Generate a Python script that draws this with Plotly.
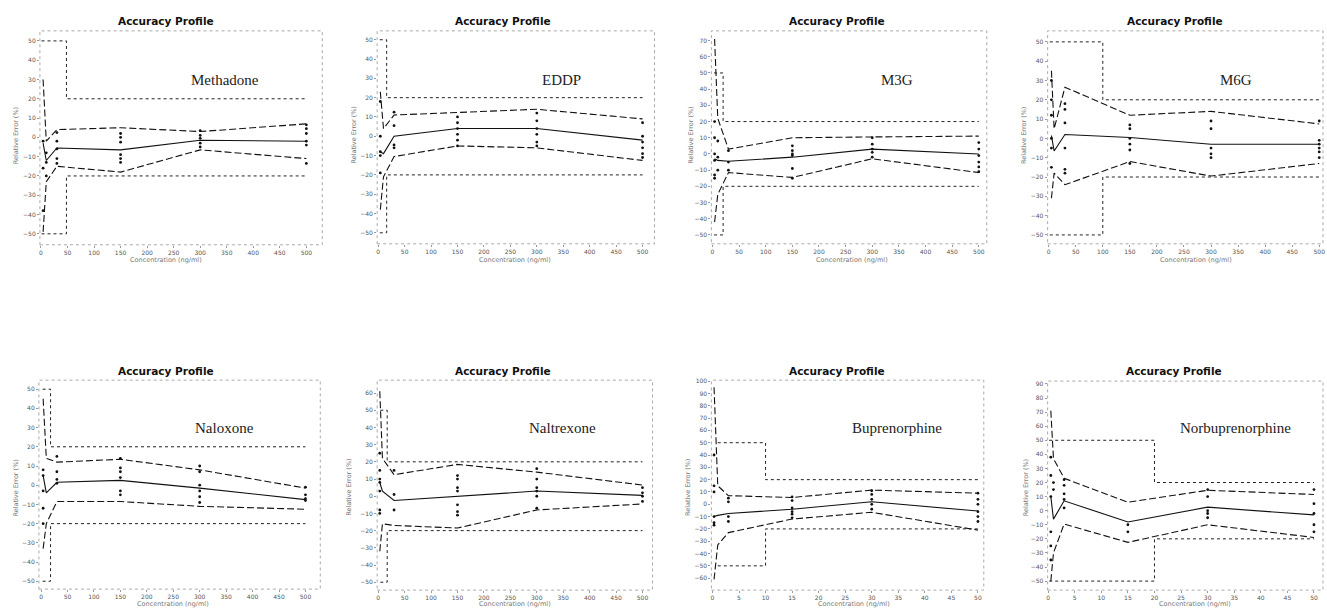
import plotly.graph_objects as go

W, H = 1327, 613

# ---------------- data ----------------
names = ["Methadone", "EDDP", "M3G", "M6G", "Naloxone", "Naltrexone",
         "Buprenorphine", "Norbuprenorphine"]

# Methadone
methadone_conc = [4, 10, 30, 150, 300, 500]
methadone_upper = [30, -2, 4, 5, 3, 7]
methadone_mean = [-3, -12, -5.5, -6.5, -1.5, -2]
methadone_lower = [-49, -23, -15, -18, -6.5, -11]
methadone_limit_x = [1, 48, 48, 500]
methadone_pts_x = [4]*3 + [10]*3 + [30]*5 + [150]*6 + [300]*5 + [500]*6
methadone_pts_y = [-2, -16, -38, -8, -13, -20, 2.5, -2, -6, -11, -13.5,
                   2, 0, -2.5, -9, -11, -13, 3.5, 1, -0.5, -3, -5,
                   6.5, 4.5, 2, -2, -4, -13.5]

# EDDP
eddp_conc = [4, 10, 30, 150, 300, 500]
eddp_upper = [23, 4, 11, 12.5, 14, 9]
eddp_mean = [-8, -9, 0, 4, 4, -2]
eddp_lower = [-38, -21, -10.5, -5, -6, -12.5]
eddp_limit_x = [3, 16, 16, 500]
eddp_pts_x = [4]*5 + [30]*4 + [150]*6 + [300]*6 + [500]*6
eddp_pts_y = [18, 0, -8, -10, -19, 12.5, 5.5, -4.5, -6,
              10, 7, 4, 1, -2, -5, 12, 8, 4, 1, -3, -5,
              7, 0, -3, -6, -9, -11]

# M3G
m3g_conc = [4, 10, 30, 150, 300, 500]
m3g_upper = [71, 22, 3, 10, 10.5, 11]
m3g_mean = [-3, -4, -4.5, -2, 3, 0]
m3g_lower = [-42, -25, -11.5, -14.5, -3, -11.5]
m3g_limit_x = [3, 20, 20, 500]
m3g_pts_x = [4]*6 + [10]*3 + [30]*3 + [150]*6 + [300]*5 + [500]*6
m3g_pts_y = [20, 10, 0, -4, -13, -15, 8, -2, -10, 2, -5, -10,
             5, 2, 0, -1, -9, -15, 10, 6, 3, 1, -2,
             7, 3, -1, -5, -8, -11]

# M6G
m6g_conc = [5, 10, 30, 150, 300, 500]
m6g_upper = [35, 5, 26.5, 12, 14, 7.5]
m6g_mean = [1.5, -6.5, 2, 0.5, -3, -3]
m6g_lower = [-31, -18, -24, -12, -19.5, -13]
m6g_limit_x = [2, 100, 100, 500]
m6g_pts_x = [5]*6 + [30]*6 + [150]*6 + [300]*5 + [500]*6
m6g_pts_y = [30, 20, 12, 0, -5, -15, 18, 15, 8, -5, -16, -18,
             7, 5, 0, -3, -6, -13, 9, 5, -5, -8, -10,
             9, -1, -3, -5, -7, -10]

# Naloxone
naloxone_conc = [4, 10, 30, 150, 300, 500]
naloxone_upper = [45, 14, 12, 13.5, 8, -1.5]
naloxone_mean = [5, -4, 1.5, 2.5, -1.5, -7.5]
naloxone_lower = [-33, -20, -8.5, -8.5, -11, -12.5]
naloxone_limit_x = [3, 18, 18, 500]
naloxone_pts_x = [4]*5 + [30]*4 + [150]*6 + [300]*6 + [500]*4
naloxone_pts_y = [8, 5, -3, -12, -20, 15, 7, 3, 1,
                  14, 9, 7, 4, -3, -5, 10, 7, 0, -3, -6, -9,
                  -1, -5, -7, -8]

# Naltrexone
naltrexone_conc = [3, 8, 30, 150, 300, 500]
naltrexone_upper = [61, 22, 12.5, 18.5, 14, 6.5]
naltrexone_mean = [8, 3, -2.5, 0, 3, 0.5]
naltrexone_lower = [-32, -16, -17, -18.5, -8, -4.5]
naltrexone_limit_x = [4, 17, 17, 500]
naltrexone_pts_x = [3]*7 + [30]*3 + [150]*7 + [300]*6 + [500]*4
naltrexone_pts_y = [25, 15, 10, 8, 3, -8, -10, 15, 1, -8,
                    12, 10, 5, 3, -5, -9, -11, 16, 10, 5, 3, 0, -7,
                    5, 2, 0, -3]

# Buprenorphine
buprenorphine_conc = [0.3, 1, 3, 15, 30, 50]
buprenorphine_upper = [95, 15, 7, 5.5, 11.5, 9]
buprenorphine_mean = [-10, -9, -7.5, -4, 2, -5.5]
buprenorphine_lower = [-61, -33, -23, -12, -6.5, -21]
buprenorphine_limit_x = [1, 10, 10, 50]
buprenorphine_pts_x = [0.3]*6 + [3]*4 + [15]*6 + [30]*5 + [50]*6
buprenorphine_pts_y = [40, 15, 10, -10, -15, -17, 5, 2, -10, -14,
                       6, 3, -3, -6, -8, -11, 11, 8, 4, 0, -4,
                       9, 4, 0, -6, -10, -14]

# Norbuprenorphine
norbuprenorphine_conc = [0.5, 1, 3, 15, 30, 50]
norbuprenorphine_upper = [71, 37, 23, 6, 14.5, 11.5]
norbuprenorphine_mean = [10, -6, 7, -8, 2.5, -3]
norbuprenorphine_lower = [-50, -30, -9.5, -22.5, -10, -19]
norbuprenorphine_limit_x = [0.2, 20, 20, 50]
norbuprenorphine_pts_x = [0.5]*6 + [1]*2 + [3]*5 + [15]*2 + [30]*5 + [50]*5
norbuprenorphine_pts_y = [38, 25, 10, -15, -25, -35, 20, 15,
                          22, 18, 12, 8, 2, -10, -15,
                          15, 10, 0, -2, -5, 15, 5, -2, -10, -15]

limit_hi = [50, 50, 20, 20]
limit_lo = [-50, -50, -20, -20]

x_ticks_big = [0, 50, 100, 150, 200, 250, 300, 350, 400, 450, 500]
x_ticks_small = [0, 5, 10, 15, 20, 25, 30, 35, 40, 45, 50]

# ---------------- layout geometry ----------------
# plot boxes in pixels: (left, right, top, bottom)
boxes = [(39, 322, 28, 243), (377, 655, 28, 242), (712, 988, 28, 242), (1049, 1325, 28, 242),
         (38, 320, 379, 589), (377, 653, 379, 590), (712, 985, 379, 590), (1049, 1325, 380, 590)]
xranges = [[-2, 530], [-2, 522.6], [-2, 515], [-2, 507],
           [-4, 528], [-2, 519], [-0.2, 51.1], [-0.1, 51.7]]
yranges = [[-55.7, 55.2], [-55.7, 54.6], [-55.5, 76], [-54.6, 55.7],
           [-54.1, 54.7], [-54.6, 67.5], [-69.7, 100.8], [-56.4, 92]]
ytick_ranges = [(-50, 50), (-50, 50), (-50, 70), (-50, 50),
                (-50, 50), (-50, 60), (-60, 100), (-50, 90)]
label_pos = [(225, 77), (562, 77), (898, 77), (1238, 77),
             (224, 427), (563, 427), (898, 427), (1237, 427)]
title_pos = [(165, 18), (503, 18), (838, 18), (1177, 18),
             (165, 370), (503, 370), (838, 370), (1176, 370)]
xtitle_pos = [(165, 258), (515, 258), (853, 258), (1198, 258),
              (172, 604), (515, 604), (855, 604), (1197, 604)]
ytitle_pos = [(15, 133), (354, 133), (692, 133), (1026, 133),
              (15, 487), (348, 487), (688, 487), (1027, 487)]

panels = [
    (methadone_conc, methadone_upper, methadone_mean, methadone_lower, methadone_limit_x, methadone_pts_x, methadone_pts_y),
    (eddp_conc, eddp_upper, eddp_mean, eddp_lower, eddp_limit_x, eddp_pts_x, eddp_pts_y),
    (m3g_conc, m3g_upper, m3g_mean, m3g_lower, m3g_limit_x, m3g_pts_x, m3g_pts_y),
    (m6g_conc, m6g_upper, m6g_mean, m6g_lower, m6g_limit_x, m6g_pts_x, m6g_pts_y),
    (naloxone_conc, naloxone_upper, naloxone_mean, naloxone_lower, naloxone_limit_x, naloxone_pts_x, naloxone_pts_y),
    (naltrexone_conc, naltrexone_upper, naltrexone_mean, naltrexone_lower, naltrexone_limit_x, naltrexone_pts_x, naltrexone_pts_y),
    (buprenorphine_conc, buprenorphine_upper, buprenorphine_mean, buprenorphine_lower, buprenorphine_limit_x, buprenorphine_pts_x, buprenorphine_pts_y),
    (norbuprenorphine_conc, norbuprenorphine_upper, norbuprenorphine_mean, norbuprenorphine_lower, norbuprenorphine_limit_x, norbuprenorphine_pts_x, norbuprenorphine_pts_y),
]

fig = go.Figure()
shapes = []
annotations = []
layout_axes = {}
small_font = dict(size=6, color="#555", family="DejaVu Sans")

for i, (conc, up, mean, lo, lim_x, px, py) in enumerate(panels):
    n = i + 1
    xa = "x" if n == 1 else f"x{n}"
    ya = "y" if n == 1 else f"y{n}"
    l, r, t, b = boxes[i]
    # acceptance limits (dotted)
    for lim in (limit_hi, limit_lo):
        fig.add_trace(go.Scatter(x=lim_x, y=lim, mode="lines", xaxis=xa, yaxis=ya,
                                 line=dict(color="#222", width=1, dash="dot"),
                                 showlegend=False, hoverinfo="skip"))
    # tolerance limits (dashed)
    for tol in (up, lo):
        fig.add_trace(go.Scatter(x=conc, y=tol, mode="lines", xaxis=xa, yaxis=ya,
                                 line=dict(color="#111", width=1.1, dash="7px,3px"),
                                 showlegend=False, hoverinfo="skip"))
    # mean bias (solid)
    fig.add_trace(go.Scatter(x=conc, y=mean, mode="lines", xaxis=xa, yaxis=ya,
                             line=dict(color="#111", width=1.1),
                             showlegend=False, hoverinfo="skip"))
    # individual results
    fig.add_trace(go.Scatter(x=px, y=py, mode="markers", xaxis=xa, yaxis=ya,
                             marker=dict(color="#111", size=2.8),
                             showlegend=False, hoverinfo="skip"))

    ylo, yhi = ytick_ranges[i]
    ytickvals = list(range(ylo, yhi + 1, 10))
    xtickvals = x_ticks_big if i < 6 else x_ticks_small
    layout_axes[("xaxis" if n == 1 else f"xaxis{n}")] = dict(
        domain=[l / W, r / W], anchor=ya, range=xranges[i],
        showgrid=False, zeroline=False, showline=False,
        tickvals=xtickvals, ticks="outside", ticklen=2, tickcolor="#999",
        tickfont=small_font, ticklabeloverflow="allow",
    )
    layout_axes[("yaxis" if n == 1 else f"yaxis{n}")] = dict(
        domain=[1 - b / H, 1 - t / H], anchor=xa, range=yranges[i],
        showgrid=False, zeroline=False, showline=False,
        tickvals=ytickvals, ticks="outside", ticklen=2, tickcolor="#999",
        tickfont=small_font, ticklabeloverflow="allow",
    )
    shapes.append(dict(type="rect", xref=f"{xa} domain", yref=f"{ya} domain",
                       x0=0, x1=1, y0=0, y1=1,
                       line=dict(color="#aaa", width=1, dash="dot")))
    lx, ly = label_pos[i]
    annotations.append(dict(text=names[i], x=lx / W, y=1 - ly / H, xref="paper", yref="paper",
                            showarrow=False, xanchor="center", yanchor="middle",
                            font=dict(family="Liberation Serif", size=15, color="#222")))
    tx, ty = title_pos[i]
    annotations.append(dict(text="<b>Accuracy Profile</b>", x=tx / W, y=1 - ty / H,
                            xref="paper", yref="paper", showarrow=False,
                            xanchor="center", yanchor="middle",
                            font=dict(family="DejaVu Sans", size=10.5, color="#111")))
    ax_, ay_ = xtitle_pos[i]
    annotations.append(dict(text="Concentration (ng/ml)", x=ax_ / W, y=1 - ay_ / H,
                            xref="paper", yref="paper", showarrow=False,
                            xanchor="center", yanchor="middle",
                            font=dict(family="DejaVu Sans", size=6.5, color="#777")))
    bx_, by_ = ytitle_pos[i]
    annotations.append(dict(text="Relative Error (%)", x=bx_ / W, y=1 - by_ / H,
                            xref="paper", yref="paper", showarrow=False, textangle=-90,
                            xanchor="center", yanchor="middle",
                            font=dict(family="DejaVu Sans", size=6.5, color="#777")))

fig.update_layout(width=W, height=H, margin=dict(l=0, r=0, t=0, b=0),
                  paper_bgcolor="white", plot_bgcolor="white",
                  shapes=shapes, annotations=annotations, **layout_axes)

fig.write_html("out.html", config={"displayModeBar": False},
               post_script="document.body.style.margin='0';document.body.style.overflow='hidden';")
